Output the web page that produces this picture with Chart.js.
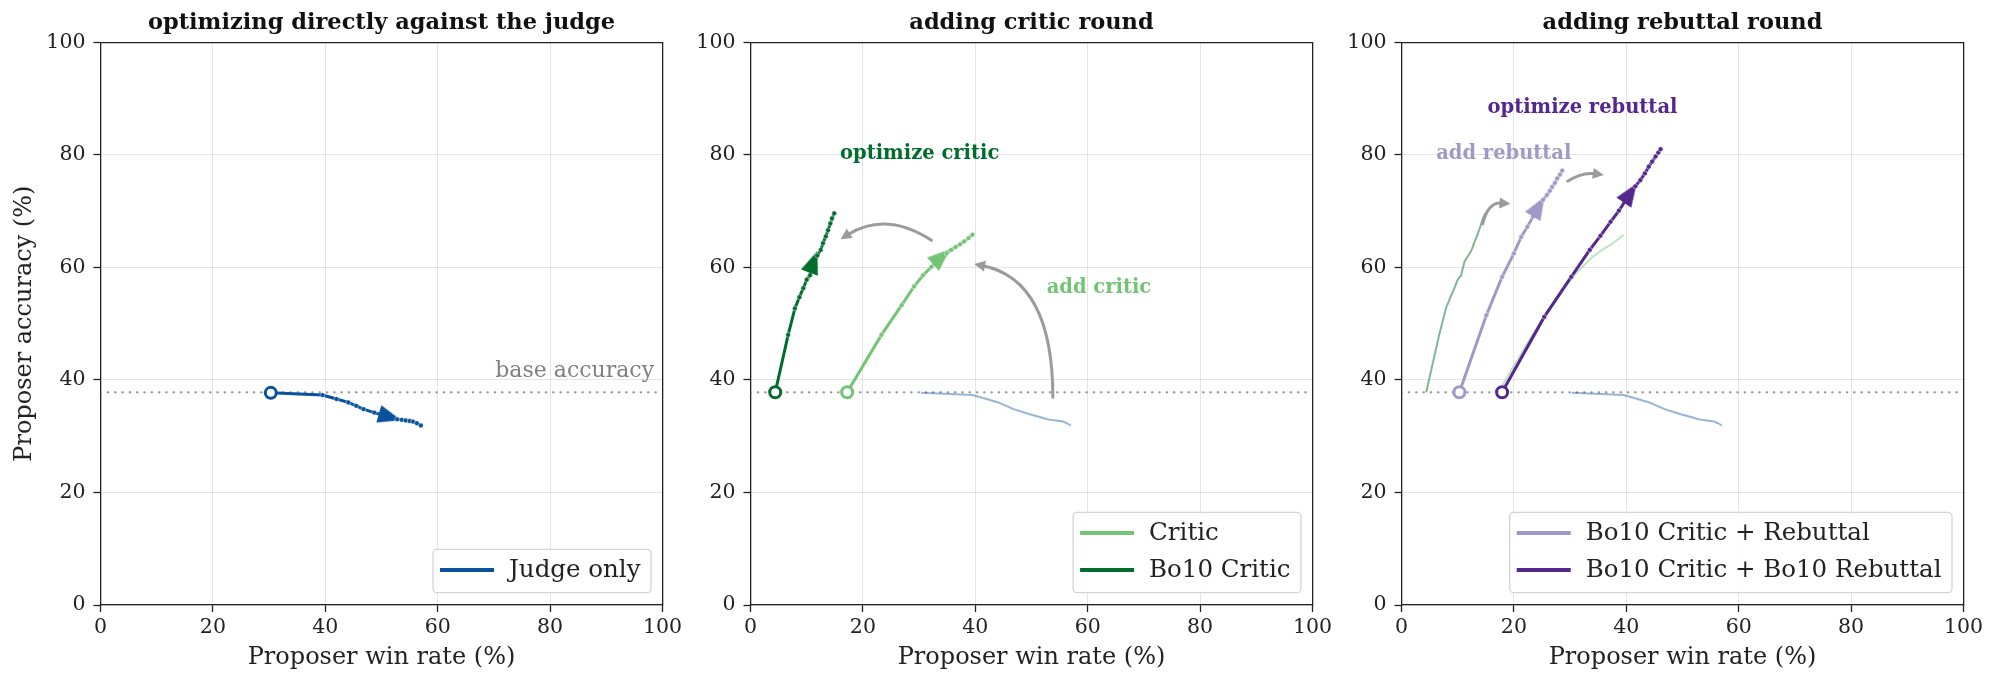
<!DOCTYPE html>
<html>
<head>
<meta charset="utf-8">
<script src="https://cdn.jsdelivr.net/npm/chart.js@4.4.1/dist/chart.umd.min.js"></script>
<style>
html, body { margin: 0; padding: 0; background: #fff; }
#wrap { position: relative; width: 1999px; height: 685px; overflow: hidden; }
.panel { position: absolute; top: 0; }
</style>
</head>
<body>
<div id="wrap">
  <canvas id="p1" class="panel" width="763" height="685" style="left:0px"></canvas>
  <canvas id="p2" class="panel" width="763" height="685" style="left:650px"></canvas>
  <canvas id="p3" class="panel" width="763" height="685" style="left:1301px"></canvas>
</div>
<script>
// values (win rate %, accuracy %)
const axisTicks = [0, 20, 40, 60, 80, 100];
const baseAccuracy = 37.8;

const judgeX = [30.3, 39.5, 42.0, 44.1, 45.5, 46.8, 48.7, 50.0, 51.5, 52.8, 53.6, 54.3, 55.0, 55.6, 56.3, 57.0];
const judgeY = [37.7, 37.3, 36.6, 36.0, 35.4, 34.8, 34.2, 33.8, 33.4, 33.0, 32.9, 32.8, 32.7, 32.6, 32.3, 31.9];

const criticX = [17.2, 23.3, 26.9, 29.1, 30.7, 32.2, 34.0, 34.9, 35.7, 36.5, 37.3, 38.0, 38.8, 39.5];
const criticY = [37.8, 48.0, 53.3, 56.6, 58.6, 60.1, 61.9, 62.5, 63.1, 63.6, 64.1, 64.6, 65.2, 65.8];

const bo10CriticX = [4.4, 6.7, 7.9, 8.7, 9.4, 10.0, 10.6, 11.2, 11.9, 12.5, 12.9, 13.4, 13.8, 14.2, 14.5, 14.9];
const bo10CriticY = [37.8, 48.0, 52.7, 54.7, 56.3, 57.8, 58.6, 61.0, 62.1, 63.1, 64.3, 65.5, 66.6, 67.8, 68.7, 69.6];

const rebuttalX = [10.3, 15.1, 17.9, 20.0, 21.3, 22.4, 23.4, 24.4, 25.2, 25.9, 26.4, 26.8, 27.3, 27.7, 28.2, 28.6];
const rebuttalY = [37.8, 51.5, 58.3, 62.5, 65.4, 67.2, 69.0, 70.8, 72.0, 72.9, 73.6, 74.3, 75.0, 75.8, 76.5, 77.2];

const bo10RebuttalX = [17.9, 25.4, 30.2, 33.5, 35.4, 37.2, 38.7, 40.7, 41.6, 42.5, 43.3, 44.0, 44.6, 45.2, 45.7, 46.1];
const bo10RebuttalY = [37.8, 51.2, 58.3, 63.1, 65.6, 68.1, 70.1, 73.2, 74.4, 75.5, 76.7, 77.9, 78.8, 79.7, 80.4, 81.0];

const FONT = "'DejaVu Serif', serif";
const BLUE = '#08519c', LGREEN = '#74c476', DGREEN = '#006d2c', LPURPLE = '#9e9ac8', DPURPLE = '#54278f';

Chart.defaults.font.family = FONT;
Chart.defaults.color = '#222';

function toPoints(xs, ys) {
  return xs.map((x, i) => ({x: x, y: ys[i]}));
}

// little arrow head used as a point style (tip pointing up before rotation)
function arrowHead(color) {
  const c = document.createElement('canvas');
  c.width = 18; c.height = 23;
  const g = c.getContext('2d');
  g.fillStyle = color;
  g.beginPath();
  g.moveTo(9, 0);
  g.lineTo(18, 23);
  g.lineTo(0, 23);
  g.closePath();
  g.fill();
  return c;
}

// main trajectory: open circle at start, arrow head part way along
function mainSeries(label, xs, ys, color, arrowAt) {
  const pts = toPoints(xs, ys);
  const a = pts[arrowAt - 1], b = pts[arrowAt + 1];
  const angle = Math.atan2(b.x - a.x, b.y - a.y) * 180 / Math.PI;
  const head = arrowHead(color);
  return {
    label: label, data: pts, showLine: true, inLegend: true, order: 1,
    borderColor: color, borderWidth: 3,
    pointStyle: c => c.dataIndex === arrowAt ? head : 'circle',
    pointRadius: c => c.dataIndex === 0 ? 5.5 : 2.4,
    pointRotation: c => c.dataIndex === arrowAt ? angle : 0,
    pointBackgroundColor: c => c.dataIndex === 0 ? '#fff' : color,
    pointBorderColor: c => c.dataIndex === 0 ? color : 'rgba(255,255,255,0.7)',
    pointBorderWidth: c => c.dataIndex === 0 ? 3 : 0.6
  };
}

function faintSeries(xs, ys, color) {
  return {label: '', data: toPoints(xs, ys), showLine: true, order: 2,
    borderColor: color, borderWidth: 2, pointRadius: 0};
}

function baseLine() {
  return {label: '', data: [{x: 0, y: baseAccuracy}, {x: 100, y: baseAccuracy}], showLine: true, order: 3,
    borderColor: 'rgba(120,120,120,0.75)', borderWidth: 2.2, borderDash: [0.5, 6.8], borderCapStyle: 'round', pointRadius: 0};
}

// grey curved arrows and coloured notes, in data units
const panelNotes = {
  p1: {
    arrows: [],
    labels: [{text: 'base accuracy', x: 98.5, y: 41.5, color: '#808080', align: 'right', bold: false}]
  },
  p2: {
    arrows: [
      {from: [53.8, 36.7], ctrl: [53.85, 57.7], to: [39.8, 60.6]},
      {from: [32.4, 64.7], ctrl: [24.2, 70.1], to: [16.0, 65.0]}
    ],
    labels: [
      {text: 'optimize critic', x: 30.1, y: 80.2, color: DGREEN, align: 'center', bold: true},
      {text: 'add critic', x: 62.0, y: 56.3, color: LGREEN, align: 'center', bold: true}
    ]
  },
  p3: {
    arrows: [
      {from: [14.4, 67.5], ctrl: [15.3, 71.6], to: [19.4, 71.3]},
      {from: [29.4, 75.2], ctrl: [32.1, 77.0], to: [36.0, 76.4]}
    ],
    labels: [
      {text: 'add rebuttal', x: 18.2, y: 80.1, color: LPURPLE, align: 'center', bold: true},
      {text: 'optimize rebuttal', x: 32.2, y: 88.3, color: DPURPLE, align: 'center', bold: true}
    ]
  }
};

function drawArrow(ctx, xs, ys, a) {
  const p0 = [xs.getPixelForValue(a.from[0]), ys.getPixelForValue(a.from[1])];
  const c = [xs.getPixelForValue(a.ctrl[0]), ys.getPixelForValue(a.ctrl[1])];
  const p2 = [xs.getPixelForValue(a.to[0]), ys.getPixelForValue(a.to[1])];
  const dx = p2[0] - c[0], dy = p2[1] - c[1];
  const len = Math.hypot(dx, dy);
  const ux = dx / len, uy = dy / len;
  const headLen = 11, headW = 5.5;
  const bx = p2[0] - ux * headLen, by = p2[1] - uy * headLen;
  ctx.beginPath();
  ctx.moveTo(p0[0], p0[1]);
  ctx.quadraticCurveTo(c[0], c[1], bx + ux * 2, by + uy * 2);
  ctx.stroke();
  ctx.beginPath();
  ctx.moveTo(p2[0], p2[1]);
  ctx.lineTo(bx - uy * headW, by + ux * headW);
  ctx.lineTo(bx + uy * headW, by - ux * headW);
  ctx.closePath();
  ctx.fill();
}

function roundRect(ctx, x, y, w, h, r) {
  ctx.beginPath();
  ctx.moveTo(x + r, y);
  ctx.arcTo(x + w, y, x + w, y + h, r);
  ctx.arcTo(x + w, y + h, x, y + h, r);
  ctx.arcTo(x, y + h, x, y, r);
  ctx.arcTo(x, y, x + w, y, r);
  ctx.closePath();
}

const notesPlugin = {
  id: 'notes',
  afterDatasetsDraw(chart) {
    const notes = panelNotes[chart.canvas.id];
    const ctx = chart.ctx, xs = chart.scales.x, ys = chart.scales.y;
    ctx.save();
    ctx.strokeStyle = 'rgba(150,150,150,0.95)';
    ctx.fillStyle = 'rgba(150,150,150,0.95)';
    ctx.lineWidth = 3;
    notes.arrows.forEach(a => drawArrow(ctx, xs, ys, a));
    notes.labels.forEach(l => {
      ctx.font = (l.bold ? 'bold 19.5px ' : '22px ') + FONT;
      ctx.fillStyle = l.color;
      ctx.textAlign = l.align;
      ctx.textBaseline = 'middle';
      ctx.fillText(l.text, xs.getPixelForValue(l.x), ys.getPixelForValue(l.y));
    });
    ctx.restore();
  },
  afterDraw(chart) {
    // legend in lower right corner
    const ctx = chart.ctx, area = chart.chartArea;
    const items = chart.data.datasets.filter(d => d.inLegend);
    ctx.save();
    ctx.font = '24.5px ' + FONT;
    const textW = Math.max.apply(null, items.map(d => ctx.measureText(d.label).width));
    const w = 7 + 54 + 15 + textW + 10.5, h = items.length * 37 + 6.4;
    const left = area.right - 11.5 - w, top = area.bottom - 12.3 - h;
    roundRect(ctx, left, top, w, h, 4);
    ctx.fillStyle = 'rgba(255,255,255,0.85)';
    ctx.fill();
    ctx.strokeStyle = '#d4d4d4';
    ctx.lineWidth = 1.3;
    ctx.stroke();
    items.forEach((d, i) => {
      const cy = top + 2.2 + 37 * (i + 0.5);
      ctx.strokeStyle = d.borderColor;
      ctx.lineWidth = 4;
      ctx.beginPath();
      ctx.moveTo(left + 7, cy);
      ctx.lineTo(left + 61, cy);
      ctx.stroke();
      ctx.fillStyle = '#222';
      ctx.textAlign = 'left';
      ctx.textBaseline = 'middle';
      ctx.fillText(d.label, left + 76, cy + 1);
    });
    ctx.restore();
  }
};

function axes(showYTitle) {
  const common = {
    type: 'linear', min: 0, max: 100,
    afterBuildTicks: s => { s.ticks = axisTicks.map(v => ({value: v})); },
    grid: {color: 'rgba(0,0,0,0.1)', lineWidth: 1, tickColor: '#222', tickLength: 7, tickWidth: 1.3},
    border: {color: '#222', width: 1.3}
  };
  // frame-only axes on top and right give the closed box and keep the title centred
  const frame = {
    type: 'linear', min: 0, max: 100,
    grid: {display: false}, ticks: {display: false},
    border: {display: true, color: '#222', width: 1.3}
  };
  return {
    x: Object.assign({}, common, {
      ticks: {font: {size: 20.5}, color: '#222', padding: 3, maxRotation: 0, autoSkip: false},
      title: {display: true, text: 'Proposer win rate (%)', font: {size: 24}, color: '#222', padding: {top: 0, bottom: 13.1}},
      afterFit: s => { s.height = 80; s.paddingLeft = 0; s.paddingRight = 0; }
    }),
    y: Object.assign({}, common, {
      ticks: {font: {size: 20.5}, color: '#222', padding: 8, autoSkip: false},
      title: {display: showYTitle, text: 'Proposer accuracy (%)', font: {size: 24}, color: '#222', padding: {top: 10.1, bottom: 0}},
      afterFit: s => { s.width = 100.5; s.paddingTop = 0; s.paddingBottom = 0; }
    }),
    xTop: Object.assign({}, frame, {position: 'top', axis: 'x',
      afterFit: s => { s.height = 0; s.paddingLeft = 0; s.paddingRight = 0; }}),
    yRight: Object.assign({}, frame, {position: 'right', axis: 'y',
      afterFit: s => { s.width = 100.5; s.paddingTop = 0; s.paddingBottom = 0; }})
  };
}

function makePanel(id, title, datasets, showYTitle) {
  return new Chart(document.getElementById(id), {
    type: 'scatter',
    data: {datasets: datasets},
    options: {
      responsive: false,
      animation: false,
      layout: {padding: 0},
      scales: axes(showYTitle),
      plugins: {
        legend: {display: false},
        tooltip: {enabled: false},
        title: {display: true, text: title, color: '#111', font: {size: 22.5, weight: 'bold'}, padding: {top: 9.3, bottom: 6}}
      }
    },
    plugins: [notesPlugin]
  });
}

makePanel('p1', 'optimizing directly against the judge', [
  mainSeries('Judge only', judgeX, judgeY, BLUE, 8),
  baseLine()
], true);

makePanel('p2', 'adding critic round', [
  mainSeries('Critic', criticX, criticY, LGREEN, 6),
  mainSeries('Bo10 Critic', bo10CriticX, bo10CriticY, DGREEN, 7),
  faintSeries(judgeX, judgeY, 'rgba(8,81,156,0.42)'),
  baseLine()
], false);

makePanel('p3', 'adding rebuttal round', [
  mainSeries('Bo10 Critic + Rebuttal', rebuttalX, rebuttalY, LPURPLE, 7),
  mainSeries('Bo10 Critic + Bo10 Rebuttal', bo10RebuttalX, bo10RebuttalY, DPURPLE, 7),
  faintSeries(bo10CriticX, bo10CriticY, 'rgba(0,109,44,0.5)'),
  faintSeries(criticX, criticY, 'rgba(116,196,118,0.45)'),
  faintSeries(judgeX, judgeY, 'rgba(8,81,156,0.42)'),
  baseLine()
], false);
</script>
</body>
</html>
